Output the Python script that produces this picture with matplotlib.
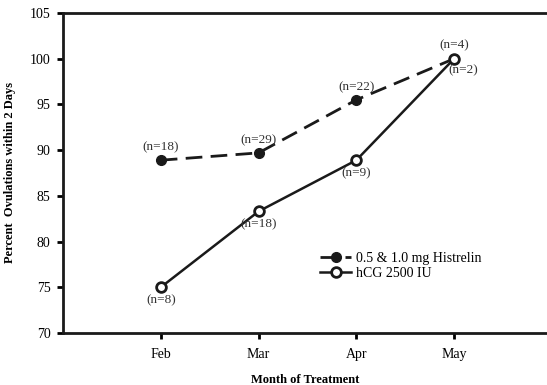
import matplotlib.pyplot as plt

plt.rcParams['font.family'] = ['Liberation Serif', 'DejaVu Serif']

months = ["Feb", "Mar", "Apr", "May"]
histrelin = [88.9, 89.7, 95.5, 100.0]
hcg = [75.0, 83.3, 88.9, 100.0]
histrelin_n = ["(n=18)", "(n=29)", "(n=22)", "(n=4)"]
hcg_n = ["(n=8)", "(n=18)", "(n=9)", "(n=2)"]

x = [1, 2, 3, 4]

fig = plt.figure(figsize=(5.47, 3.85), dpi=100)
ax = fig.add_axes([63 / 547, 1 - 333 / 385, 1 - 63 / 547, 320 / 385])

ax.plot(x, histrelin, color="#1a1a1a", lw=2, ls=(0, (6, 3)), marker="o",
        ms=7, mfc="#1a1a1a", mec="#1a1a1a", label="0.5 & 1.0 mg Histrelin")
ax.plot(x, hcg, color="#1a1a1a", lw=1.8, marker="o", ms=7, mfc="white",
        mec="#1a1a1a", mew=2, label="hCG 2500 IU", zorder=3)

for xi, yi, t in zip(x, histrelin, histrelin_n):
    ax.annotate(t, (xi, yi), xytext=(0, 5), textcoords="offset points",
                ha="center", va="bottom", fontsize=9.5, color="#333333")
for xi, yi, t in zip(x[:3], hcg[:3], hcg_n[:3]):
    ax.annotate(t, (xi, yi), xytext=(0, -5), textcoords="offset points",
                ha="center", va="top", fontsize=9.5, color="#333333")
ax.annotate(hcg_n[3], (x[3], hcg[3]), xytext=(-4, -4), textcoords="offset points",
            ha="left", va="top", fontsize=9.5, color="#333333")

ax.set_xlim(0, 4.95)
ax.set_ylim(70, 105)
ax.set_xticks(x)
ax.set_xticklabels(months)
ax.set_yticks(range(70, 106, 5))
ax.tick_params(direction="out", width=2, length=4, labelsize=10, pad=5)
ax.tick_params(axis="x", pad=7)

for s in ["left", "bottom", "top"]:
    ax.spines[s].set_linewidth(2)
    ax.spines[s].set_color("#1a1a1a")
ax.spines["right"].set_visible(False)

ax.set_xlabel("Month of Treatment", fontweight="bold", fontsize=9, labelpad=9)
ax.set_ylabel("Percent  Ovulations within 2 Days", fontweight="bold", fontsize=9, labelpad=10)

ax.legend(loc="upper left", bbox_to_anchor=(0.52, 0.27), frameon=False,
          fontsize=10, handlelength=2.2, handletextpad=0.4, labelspacing=0.1,
          borderaxespad=0)

fig.savefig("out.png", dpi=100)
